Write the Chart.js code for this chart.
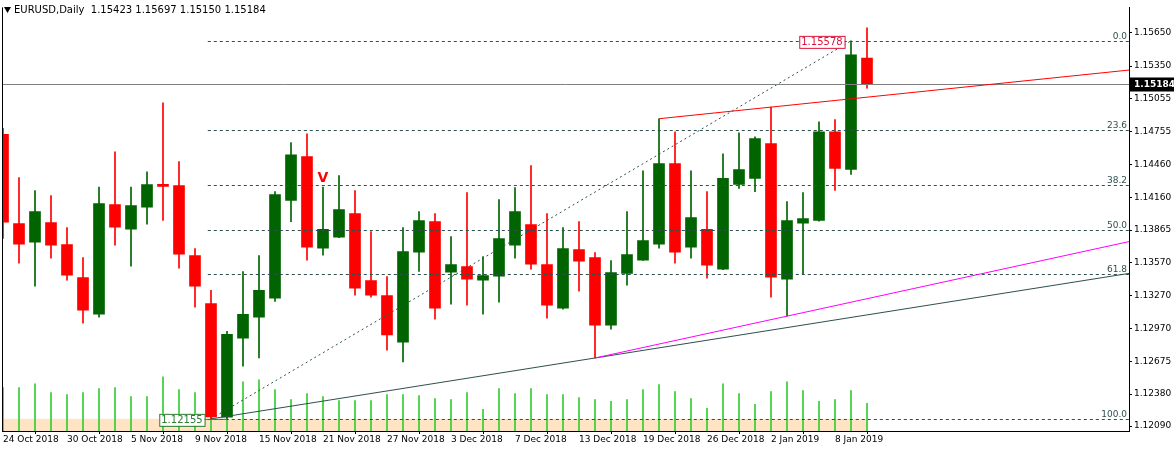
<!DOCTYPE html>
<html>
<head>
<meta charset="utf-8">
<script src="https://cdn.jsdelivr.net/npm/chart.js@4/dist/chart.umd.min.js"></script>
<style>
  html, body { margin: 0; padding: 0; background: #fff; }
  #wrap { width: 1175px; height: 449px; }
</style>
</head>
<body>
<div id="wrap"><canvas id="chart"></canvas></div>
<script>
// EURUSD daily candles, 24 Oct 2018 .. 10 Jan 2019
const opens  = [1.14731,1.13923,1.13754,1.13932,1.13733,1.13435,1.13103,1.14095,1.13872,1.14071,1.14264,1.14267,1.13634,1.13200,1.12170,
                1.12886,1.13076,1.13248,1.14134,1.14529,1.13700,1.13800,1.14014,1.13408,1.13272,1.12850,1.13664,1.13941,1.13483,1.13535,
                1.13411,1.13447,1.13727,1.13914,1.13553,1.13158,1.13688,1.13616,1.13004,1.13471,1.13592,1.13736,1.14466,1.13709,1.13872,
                1.13510,1.14279,1.14333,1.14647,1.13420,1.13926,1.13953,1.14755,1.14414,1.15423];
const highs  = [1.14785,1.14339,1.14222,1.14176,1.13887,1.13616,1.14255,1.14574,1.14255,1.14393,1.15017,1.14484,1.13697,1.13318,1.12947,
                1.13489,1.13634,1.14213,1.14656,1.14737,1.14255,1.14357,1.14222,1.13851,1.13444,1.13887,1.14032,1.14014,1.13806,1.14204,
                1.13625,1.14140,1.14249,1.14448,1.14014,1.13887,1.13941,1.13661,1.13589,1.14032,1.14402,1.14873,1.14755,1.14402,1.14213,
                1.14556,1.14746,1.14710,1.14978,1.14122,1.14204,1.14845,1.14864,1.15578,1.15697];
const lows   = [1.13790,1.13564,1.13357,1.13610,1.13411,1.13022,1.13076,1.13727,1.13537,1.13917,1.13953,1.13519,1.13167,1.12155,1.12160,
                1.12631,1.12706,1.13218,1.13941,1.13592,1.13637,1.13795,1.13275,1.13257,1.12778,1.12670,1.13489,1.13058,1.13194,1.13185,
                1.13103,1.13212,1.13610,1.13510,1.13067,1.13149,1.13311,1.12706,1.12968,1.13366,1.13590,1.13700,1.13564,1.13610,1.13429,
                1.13505,1.14242,1.14213,1.13257,1.13085,1.13465,1.13945,1.14224,1.14369,1.15150];
const closes = [1.13935,1.13736,1.14032,1.13727,1.13456,1.13140,1.14104,1.13890,1.14086,1.14276,1.14260,1.13646,1.13357,1.12172,1.12920,
                1.13101,1.13318,1.14186,1.14547,1.13709,1.13872,1.14050,1.13338,1.13275,1.12914,1.13670,1.13950,1.13158,1.13553,1.13420,
                1.13453,1.13788,1.14032,1.13555,1.13185,1.13697,1.13583,1.13004,1.13480,1.13643,1.13770,1.14466,1.13664,1.13978,1.13546,
                1.14333,1.14412,1.14694,1.13438,1.13950,1.13969,1.14755,1.14423,1.15451,1.15184];
const volumes = [44,44,48,39,37,39,43,44,35,35,55,42,39,40,43,50,52,42,32,38,35,31,31,31,37,37,36,33,32,39,
                 22,43,38,43,37,37,34,32,30,32,42,47,40,33,23,48,38,27,40,50,41,30,32,41,28].map(v => v * 1000);
const dateLabels = ['24 Oct 2018','30 Oct 2018','5 Nov 2018','9 Nov 2018','15 Nov 2018','21 Nov 2018','27 Nov 2018',
                    '3 Dec 2018','7 Dec 2018','13 Dec 2018','19 Dec 2018','26 Dec 2018','2 Jan 2019','8 Jan 2019'];
const priceTicks = [1.15650,1.15350,1.15055,1.14755,1.14460,1.14160,1.13865,1.13570,1.13270,1.12970,1.12675,1.12380,1.12090];
const fibLevels = [0.0, 23.6, 38.2, 50.0, 61.8, 100.0];
const fibHigh = 1.15578, fibLow = 1.12155;
const lastPrice = 1.15184;

const UP = '#006400', DOWN = '#ff0000';
const FONT = '"DejaVu Sans", sans-serif';
const idx = opens.map((_, i) => i);
const colorOf = i => closes[i] >= opens[i] ? UP : DOWN;

// trendlines: [x1, y1, x2, y2] in candle index / price, extended right
const trendLines = [
    { p: [41, highs[41], 48, highs[48]], color: '#ff0000' },
    { p: [13, lows[13], 37, lows[37]], color: '#2f4f4f' },
    { p: [37, lows[37], 49, lows[49]], color: '#ff00ff' }
];

const overlay = {
    id: 'overlay',
    beforeDatasetsDraw(chart) {
        const { ctx, chartArea: a, scales: { x, y } } = chart;
        ctx.save();
        // shaded band below the fib 100 level
        ctx.fillStyle = '#ffe4c4';
        const yb = y.getPixelForValue(fibLow);
        ctx.fillRect(a.left, yb, x.getPixelForValue(54) - a.left, a.bottom - yb);
        ctx.restore();
    },
    afterDatasetsDraw(chart) {
        const { ctx, chartArea: a, scales: { x, y } } = chart;
        ctx.save();
        ctx.beginPath();
        ctx.rect(a.left, a.top, a.right - a.left, a.bottom - a.top);
        ctx.clip();

        // fibonacci levels
        ctx.strokeStyle = '#2f4f4f';
        ctx.lineWidth = 1;
        ctx.setLineDash([3, 3]);
        ctx.font = '9px ' + FONT;
        ctx.fillStyle = '#2f4f4f';
        ctx.textAlign = 'right';
        fibLevels.forEach(l => {
            const py = Math.round(y.getPixelForValue(fibHigh - (fibHigh - fibLow) * l / 100)) + 0.5;
            ctx.beginPath();
            ctx.moveTo(x.getPixelForValue(12.8), py);
            ctx.lineTo(a.right, py);
            ctx.stroke();
            ctx.fillText(l.toFixed(1), a.right - 2, py - 3);
        });
        // fib base line
        ctx.setLineDash([2, 3]);
        ctx.beginPath();
        ctx.moveTo(x.getPixelForValue(13), y.getPixelForValue(fibLow));
        ctx.lineTo(x.getPixelForValue(53), y.getPixelForValue(fibHigh));
        ctx.stroke();
        ctx.setLineDash([]);

        // current price line
        const lp = Math.round(y.getPixelForValue(lastPrice)) + 0.5;
        ctx.strokeStyle = '#808080';
        ctx.beginPath(); ctx.moveTo(a.left, lp); ctx.lineTo(a.right, lp); ctx.stroke();

        // trendlines
        trendLines.forEach(t => {
            const [x1, y1, x2, y2] = t.p;
            const px1 = x.getPixelForValue(x1), py1 = y.getPixelForValue(y1);
            const px2 = x.getPixelForValue(x2), py2 = y.getPixelForValue(y2);
            const k = (py2 - py1) / (px2 - px1);
            ctx.strokeStyle = t.color;
            ctx.beginPath();
            ctx.moveTo(px1, py1);
            ctx.lineTo(a.right, py1 + k * (a.right - px1));
            ctx.stroke();
        });

        // price labels
        const box = (txt, px, py, col) => {
            ctx.font = '10px ' + FONT;
            const w = ctx.measureText(txt).width + 4;
            ctx.fillStyle = '#fff';
            ctx.fillRect(px - w, py - 6, w, 12);
            ctx.strokeStyle = col;
            ctx.strokeRect(px - w + 0.5, py - 6 + 0.5, w, 12);
            ctx.fillStyle = col;
            ctx.textAlign = 'left';
            ctx.textBaseline = 'middle';
            ctx.fillText(txt, px - w + 2, py + 1);
        };
        box('1.12155', x.getPixelForValue(12.6), y.getPixelForValue(fibLow) + 1, '#2e7d32');
        ctx.strokeStyle = '#2e7d32';
        ctx.beginPath();
        ctx.moveTo(x.getPixelForValue(12.6), y.getPixelForValue(fibLow) + 0.5);
        ctx.lineTo(x.getPixelForValue(14), y.getPixelForValue(fibLow) + 0.5);
        ctx.stroke();
        box('1.15578', x.getPixelForValue(52.6), y.getPixelForValue(fibHigh) + 1, '#dc143c');

        // the red "V" mark
        ctx.font = 'bold 14px ' + FONT;
        ctx.fillStyle = '#ff0000';
        ctx.textAlign = 'center';
        ctx.textBaseline = 'alphabetic';
        ctx.fillText('V', x.getPixelForValue(20), y.getPixelForValue(1.14300));
        ctx.restore();

        // header
        ctx.save();
        ctx.font = '10px ' + FONT;
        ctx.fillStyle = '#000';
        ctx.textBaseline = 'middle';
        ctx.beginPath();
        ctx.moveTo(4, 7); ctx.lineTo(11, 7); ctx.lineTo(7.5, 13); ctx.closePath();
        ctx.fill();
        ctx.fillText('EURUSD,Daily  1.15423 1.15697 1.15150 1.15184', 14, 10);

        // last price tag on axis
        ctx.fillStyle = '#000';
        ctx.fillRect(a.right + 1, lp - 7, 44, 14);
        ctx.fillStyle = '#fff';
        ctx.font = 'bold 9px ' + FONT;
        ctx.textAlign = 'left';
        ctx.fillText(lastPrice.toFixed(5), a.right + 5, lp + 0.5);
        ctx.restore();
    },
    afterDraw(chart) {
        const { ctx, chartArea: a } = chart;
        ctx.save();
        ctx.strokeStyle = '#000';
        ctx.beginPath(); ctx.moveTo(a.left + 0.5, a.top); ctx.lineTo(a.left + 0.5, a.bottom); ctx.stroke();
        ctx.restore();
    }
};

const config = {
    type: 'bar',
    data: {
        datasets: [
            {
                label: 'volume',
                data: idx.map(i => ({ x: i, y: volumes[i] })),
                yAxisID: 'yv',
                backgroundColor: '#32cd32',
                barThickness: 1,
                grouped: false,
                order: 3
            },
            {
                label: 'wick',
                data: idx.map(i => ({ x: i, y: [lows[i], highs[i]] })),
                yAxisID: 'y',
                backgroundColor: idx.map(colorOf),
                barThickness: 1,
                grouped: false,
                order: 2
            },
            {
                label: 'body',
                data: idx.map(i => ({ x: i, y: [Math.min(opens[i], closes[i]), Math.max(opens[i], closes[i])] })),
                yAxisID: 'y',
                backgroundColor: idx.map(colorOf),
                barThickness: 11,
                minBarLength: 2,
                grouped: false,
                order: 1
            }
        ]
    },
    options: {
        responsive: true,
        maintainAspectRatio: false,
        animation: false,
        layout: { padding: { top: 0, left: 2, right: 0, bottom: 0 } },
        plugins: { legend: { display: false }, tooltip: { enabled: false } },
        scales: {
            x: {
                type: 'linear',
                min: -0.0625,
                max: 70.375,
                offset: false,
                afterBuildTicks: s => { s.ticks = dateLabels.map((_, k) => ({ value: k * 4 })); },
                afterFit: s => { s.height = 18; },
                grid: { drawOnChartArea: false, drawTicks: true, tickLength: 3, color: '#000' },
                border: { color: '#000' },
                ticks: {
                    autoSkip: false,
                    maxRotation: 0,
                    align: 'start',
                    padding: 0,
                    color: '#000',
                    font: { family: FONT, size: 9 },
                    callback: v => dateLabels[v / 4]
                }
            },
            y: {
                position: 'right',
                min: 1.12045,
                max: 1.15881,
                afterBuildTicks: s => { s.ticks = priceTicks.map(v => ({ value: v })); },
                afterFit: s => { s.width = 46; },
                grid: { drawOnChartArea: false, drawTicks: true, tickLength: 3, color: '#000' },
                border: { color: '#000' },
                ticks: {
                    padding: 2,
                    color: '#000',
                    font: { family: FONT, size: 9 },
                    callback: v => v.toFixed(5)
                }
            },
            yv: {
                display: false,
                min: 0,
                max: 430000
            }
        }
    },
    plugins: [overlay]
};

new Chart(document.getElementById('chart').getContext('2d'), config);
</script>
</body>
</html>
